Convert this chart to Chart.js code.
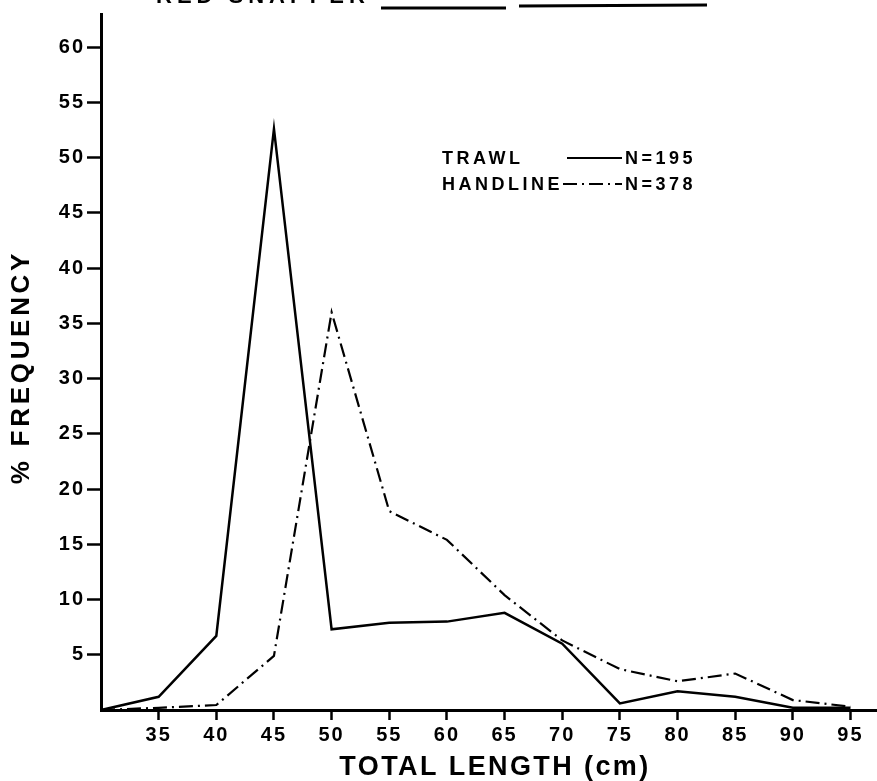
<!DOCTYPE html>
<html>
<head>
<meta charset="utf-8">
<script src="https://cdn.jsdelivr.net/npm/chart.js@4"></script>
<style>
  html, body { margin: 0; padding: 0; background: #fff; }
  #wrap { width: 877px; height: 781px; position: relative; }
</style>
</head>
<body>
<div id="wrap"><canvas id="c" width="877" height="781"></canvas></div>
<script>
// ---- data ----
const lengths = [30, 35, 40, 45, 50, 55, 60, 65, 70, 75, 80, 85, 90, 95];
const trawl    = [0, 1.2, 6.7, 52.6, 7.3, 7.9, 8.0, 8.8, 6.0, 0.6, 1.7, 1.2, 0.2, 0.2];
const handline = [0, 0.2, 0.45, 4.9, 36.0, 18.0, 15.4, 10.4, 6.3, 3.7, 2.6, 3.3, 0.9, 0.3];
const xTickValues = [35, 40, 45, 50, 55, 60, 65, 70, 75, 80, 85, 90, 95];
const yTickValues = [5, 10, 15, 20, 25, 30, 35, 40, 45, 50, 55, 60];
const legendItems = [
  { label: 'TRAWL', n: 'N=195', dash: [] },
  { label: 'HANDLINE', n: 'N=378', dash: [14, 5, 2, 5] }
];
const titleText = 'RED SNAPPER';
const xTitle = 'TOTAL LENGTH (cm)';
const yTitle = '% FREQUENCY';

const FONT = "'Liberation Sans', Arial, sans-serif";

const toPts = (ys) => lengths.map((x, i) => ({ x: x, y: ys[i] }));

function setLS(ctx, v) { try { ctx.letterSpacing = v; } catch (e) {} }

const overlay = {
  id: 'overlay',
  beforeDraw(chart) { setLS(chart.ctx, '2px'); },
  afterDraw(chart) {
    const ctx = chart.ctx;
    setLS(ctx, '0px');
    ctx.save();
    ctx.fillStyle = '#000';
    ctx.strokeStyle = '#000';
    // cut-off title at the top
    ctx.font = 'bold 22px ' + FONT;
    ctx.textBaseline = 'alphabetic';
    ctx.textAlign = 'left';
    setLS(ctx, '5px');
    ctx.fillText(titleText, 156, 3);
    ctx.lineWidth = 3;
    ctx.beginPath(); ctx.moveTo(381, 8); ctx.lineTo(506, 8); ctx.stroke();
    ctx.beginPath(); ctx.moveTo(519, 6); ctx.lineTo(707, 5); ctx.stroke();

    // legend
    ctx.font = 'bold 18px ' + FONT;
    ctx.textBaseline = 'middle';
    setLS(ctx, '3.5px');
    const rows = [158, 184];
    legendItems.forEach((it, i) => {
      const y = rows[i];
      ctx.textAlign = 'left';
      ctx.fillText(it.label, 442, y + 1);
      ctx.fillText(it.n, 625, y + 1);
      ctx.lineWidth = 2;
      ctx.setLineDash(it.dash);
      ctx.beginPath();
      ctx.moveTo(i === 0 ? 567 : 563, y);
      ctx.lineTo(622, y);
      ctx.stroke();
      ctx.setLineDash([]);
    });

    // axis titles
    ctx.textAlign = 'center';
    ctx.textBaseline = 'middle';
    ctx.font = 'bold 27px ' + FONT;
    setLS(ctx, '2.4px');
    ctx.fillText(xTitle, 495, 768);
    ctx.save();
    ctx.translate(22, 367);
    ctx.rotate(-Math.PI / 2);
    ctx.font = 'bold 26px ' + FONT;
    setLS(ctx, '3.7px');
    ctx.fillText(yTitle, 0, 0);
    ctx.restore();
    setLS(ctx, '0px');
    ctx.restore();
  }
};

new Chart(document.getElementById('c'), {
  type: 'line',
  data: {
    datasets: [
      {
        label: 'TRAWL',
        data: toPts(trawl),
        borderColor: '#000',
        borderWidth: 2.5,
        pointRadius: 0,
        tension: 0,
        clip: false
      },
      {
        label: 'HANDLINE',
        data: toPts(handline),
        borderColor: '#000',
        borderWidth: 2.2,
        borderDash: [14, 5, 2, 5],
        pointRadius: 0,
        tension: 0,
        clip: false
      }
    ]
  },
  options: {
    responsive: false,
    animation: false,
    layout: { padding: { top: 8, right: 0, left: 0, bottom: 0 } },
    plugins: { legend: { display: false }, tooltip: { enabled: false }, title: { display: false } },
    scales: {
      x: {
        type: 'linear',
        min: 30,
        max: 97.3,
        afterBuildTicks: (s) => { s.ticks = xTickValues.map(v => ({ value: v })); },
        afterFit: (s) => { s.height = 71; },
        border: { display: true, color: '#000', width: 3 },
        grid: { drawOnChartArea: false, drawTicks: true, tickLength: 10, tickColor: '#000', tickWidth: 2.5 },
        ticks: {
          color: '#000', padding: 3, maxRotation: 0, autoSkip: false,
          font: { family: FONT, size: 20, weight: 'bold' }
        },
        title: { display: false }
      },
      y: {
        type: 'linear',
        min: 0,
        max: 63,
        afterBuildTicks: (s) => { s.ticks = yTickValues.map(v => ({ value: v })); },
        afterFit: (s) => { s.width = 101; },
        border: { display: true, color: '#000', width: 3 },
        grid: { drawOnChartArea: false, drawTicks: true, tickLength: 14, tickColor: '#000', tickWidth: 2.5 },
        ticks: {
          color: '#000', padding: 2, autoSkip: false,
          font: { family: FONT, size: 20, weight: 'bold' }
        },
        title: { display: false }
      }
    }
  },
  plugins: [overlay]
});
</script>
</body>
</html>
